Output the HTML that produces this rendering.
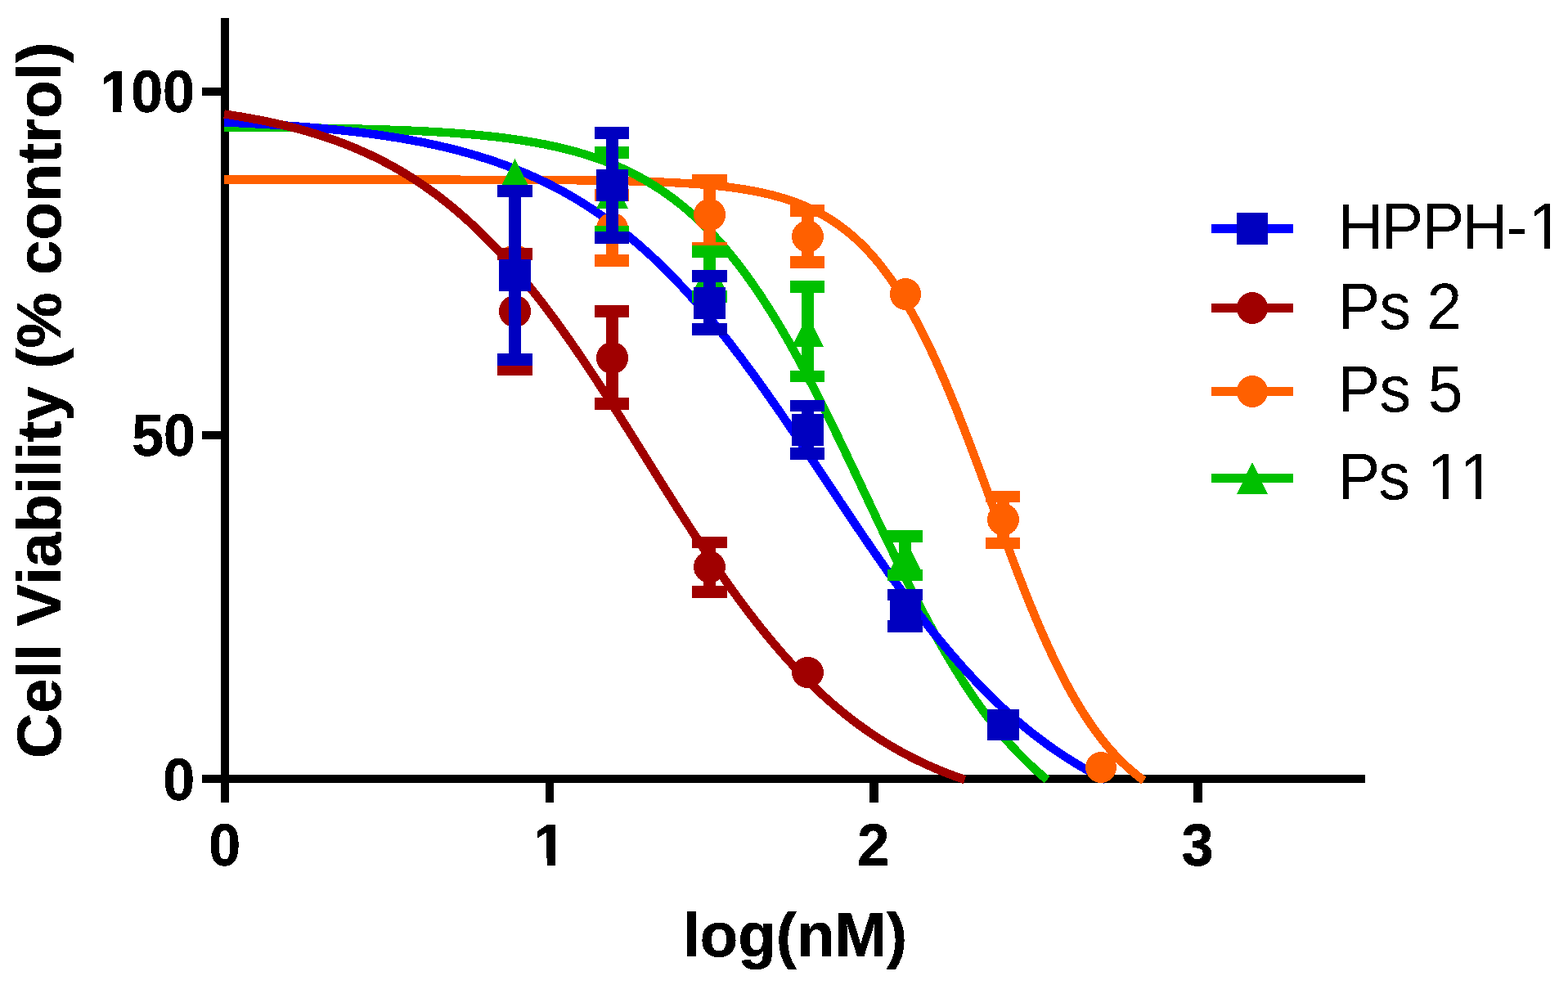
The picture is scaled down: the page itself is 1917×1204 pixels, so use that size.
<!DOCTYPE html>
<html lang="en"><head><meta charset="utf-8"><title>Cell Viability vs log(nM)</title>
<style>
html,body{margin:0;padding:0;background:#fff;width:1917px;height:1204px}
svg{display:block}
text{fill:#000;font-family:"Liberation Sans",sans-serif;white-space:pre;font-kerning:none;font-variant-ligatures:none}
.b{font-weight:700;stroke:#000;stroke-width:0.5px;stroke-linejoin:miter}
.r{font-weight:400}
</style></head>
<body>
<svg width="1917" height="1204" viewBox="0 0 1917 1204">
<defs>
<filter id="th" x="-5%" y="-5%" width="110%" height="110%" color-interpolation-filters="sRGB"><feComponentTransfer><feFuncA type="discrete" tableValues="0 1"/></feComponentTransfer></filter>
<clipPath id="c_y100"><path clip-rule="evenodd" d="M-50 -120H165.8V60H-50ZM2.41 -8.04H16.04V3.00H2.41ZM26.24 -8.04H38.98V3.00H26.24Z"/></clipPath>
<clipPath id="c_x1"><path clip-rule="evenodd" d="M-50 -120H88.9V60H-50ZM2.41 -8.04H16.04V3.00H2.41ZM26.24 -8.04H38.98V3.00H26.24Z"/></clipPath>
<clipPath id="c_l0"><path clip-rule="evenodd" d="M-50 -120H326.0V60H-50ZM237.02 -6.35H252.51V3.00H237.02ZM259.32 -6.35H274.21V3.00H259.32Z"/></clipPath>
<clipPath id="c_l3"><path clip-rule="evenodd" d="M-50 -120H242.0V60H-50ZM113.02 -6.35H128.51V3.00H113.02ZM135.32 -6.35H150.21V3.00H135.32ZM153.02 -6.35H168.51V3.00H153.02ZM175.32 -6.35H190.21V3.00H175.32Z"/></clipPath>
</defs>
<rect width="1917" height="1204" fill="#fff"/>
<g shape-rendering="crispEdges">
<g fill="#000">
<rect x="270" y="22" width="10" height="959"/>
<rect x="247" y="947" width="1422" height="10"/>
<rect x="247" y="107" width="23" height="10"/>
<rect x="247" y="527" width="23" height="10"/>
<rect x="667" y="957" width="10" height="24"/>
<rect x="1063" y="957" width="11" height="24"/>
<rect x="1459" y="957" width="11" height="24"/>
</g>
<g fill="none" stroke-linejoin="round">
<path stroke="#ff6000" stroke-width="10.4" d="M274.00 219.60L277.97 219.60L281.93 219.60L285.90 219.60L289.86 219.60L293.83 219.60L297.79 219.60L301.76 219.60L305.72 219.60L309.69 219.60L313.65 219.60L317.62 219.60L321.58 219.60L325.55 219.60L329.51 219.60L333.48 219.60L337.44 219.60L341.41 219.60L345.37 219.60L349.34 219.60L353.30 219.60L357.27 219.60L361.23 219.60L365.20 219.60L369.16 219.60L373.13 219.60L377.09 219.60L381.06 219.60L385.02 219.60L388.99 219.60L392.95 219.61L396.92 219.61L400.88 219.61L404.85 219.61L408.81 219.61L412.78 219.61L416.74 219.61L420.71 219.61L424.67 219.61L428.64 219.61L432.60 219.61L436.57 219.61L440.53 219.61L444.50 219.62L448.46 219.62L452.43 219.62L456.39 219.62L460.36 219.62L464.32 219.62L468.29 219.62L472.25 219.62L476.22 219.63L480.18 219.63L484.15 219.63L488.11 219.63L492.08 219.63L496.04 219.64L500.01 219.64L503.97 219.64L507.94 219.64L511.90 219.65L515.87 219.65L519.83 219.65L523.80 219.65L527.76 219.66L531.73 219.66L535.69 219.66L539.66 219.67L543.62 219.67L547.59 219.68L551.55 219.68L555.52 219.69L559.48 219.69L563.45 219.70L567.41 219.70L571.38 219.71L575.34 219.71L579.31 219.72L583.27 219.73L587.24 219.74L591.20 219.74L595.17 219.75L599.13 219.76L603.10 219.77L607.06 219.78L611.03 219.79L614.99 219.80L618.96 219.81L622.92 219.82L626.89 219.84L630.85 219.85L634.82 219.87L638.78 219.88L642.75 219.90L646.71 219.91L650.68 219.93L654.64 219.95L658.61 219.97L662.57 219.99L666.54 220.01L670.50 220.04L674.47 220.06L678.43 220.09L682.40 220.12L686.36 220.15L690.33 220.18L694.29 220.21L698.26 220.24L702.22 220.28L706.19 220.32L710.15 220.36L714.12 220.40L718.08 220.45L722.05 220.50L726.01 220.55L729.98 220.60L733.94 220.66L737.91 220.72L741.87 220.78L745.84 220.85L749.80 220.92L753.77 220.99L757.73 221.07L761.70 221.15L765.66 221.24L769.63 221.33L773.59 221.43L777.56 221.53L781.52 221.64L785.49 221.76L789.45 221.88L793.42 222.00L797.38 222.14L801.35 222.28L805.31 222.43L809.28 222.59L813.24 222.76L817.21 222.94L821.17 223.13L825.14 223.32L829.10 223.53L833.07 223.75L837.03 223.99L841.00 224.23L844.96 224.49L848.93 224.77L852.89 225.05L856.86 225.36L860.82 225.68L864.79 226.02L868.75 226.38L872.72 226.76L876.68 227.16L880.65 227.58L884.61 228.03L887.59 228.38"/><path stroke="#ff6000" stroke-width="10.4" d="M887.59 228.38L889.57 228.62L891.55 228.86L893.54 229.12L895.52 229.38L897.50 229.65L899.48 229.92L901.47 230.21L903.45 230.50L905.43 230.80L907.41 231.10L909.40 231.42L911.38 231.74L913.36 232.07L915.34 232.41L917.33 232.76L919.31 233.12L921.29 233.49L923.27 233.87L925.26 234.26L927.24 234.66L929.22 235.07L931.20 235.49L933.19 235.92L935.17 236.37L937.15 236.82L939.13 237.29L941.12 237.77L943.10 238.26L945.08 238.77L947.06 239.29L949.05 239.82L951.03 240.37L953.01 240.93L954.99 241.51L956.98 242.10L958.96 242.71L960.94 243.33L962.92 243.97L964.91 244.62L966.89 245.29L968.87 245.98L970.85 246.69L972.84 247.42L974.82 248.16L976.80 248.93L978.78 249.71L980.77 250.51L982.75 251.34L984.73 252.18L986.71 253.05L988.70 253.94L990.68 254.85L992.66 255.79L994.64 256.74L996.63 257.73L998.61 258.73L1000.59 259.76L1002.57 260.82L1004.56 261.91L1006.54 263.02L1008.52 264.15L1010.50 265.32L1012.49 266.51L1014.47 267.74L1016.45 268.99L1018.43 270.28L1020.42 271.59L1022.40 272.94L1024.38 274.32L1026.36 275.73L1028.35 277.17L1030.33 278.65L1032.31 280.17L1034.29 281.72L1036.28 283.30L1038.26 284.93L1040.24 286.59L1042.22 288.29L1044.21 290.03L1046.19 291.80L1048.17 293.62L1050.15 295.48L1052.14 297.38L1054.12 299.32L1056.10 301.31L1058.08 303.34L1060.07 305.41L1062.05 307.53L1064.03 309.69L1066.01 311.90L1068.00 314.16L1069.98 316.46L1071.96 318.82L1073.94 321.22L1075.93 323.67L1077.91 326.17L1079.89 328.72L1081.87 331.32L1083.86 333.98L1085.84 336.68L1087.82 339.44L1089.80 342.26L1091.79 345.12L1093.77 348.04L1095.75 351.02L1097.73 354.05L1099.72 357.13L1101.70 360.27L1103.68 363.47L1105.66 366.72L1107.65 370.03L1109.63 373.39L1111.61 376.82L1113.59 380.29L1115.58 383.83L1117.56 387.42L1119.54 391.07L1121.52 394.78L1123.51 398.55L1125.49 402.37L1127.47 406.24L1129.45 410.18L1131.44 414.17L1133.42 418.22L1135.40 422.32L1137.38 426.48L1139.37 430.69L1141.35 434.95L1143.33 439.27L1145.31 443.64L1147.30 448.07L1149.28 452.55L1151.26 457.07L1153.24 461.65L1155.23 466.27L1157.21 470.95L1159.19 475.67L1161.17 480.43L1163.16 485.24L1165.14 490.10L1167.12 494.99L1169.10 499.93L1171.09 504.91L1173.07 509.92L1175.05 514.97L1177.03 520.06L1179.02 525.18L1181.00 530.33L1182.98 535.51L1184.96 540.72L1186.95 545.96L1188.93 551.22L1190.91 556.51L1192.89 561.81L1194.88 567.14L1196.86 572.48L1198.84 577.84L1200.82 583.22L1202.81 588.60L1204.79 594.00L1206.77 599.40L1208.75 604.81L1210.74 610.22L1212.72 615.64L1214.70 621.05L1216.68 626.46L1218.67 631.87L1220.65 637.27L1222.63 642.67L1224.61 648.05L1226.60 653.42L1228.58 658.77L1230.56 664.11L1232.54 669.44L1234.53 674.74L1236.51 680.02L1238.49 685.27L1240.47 690.50L1242.46 695.71L1244.44 700.88L1246.42 706.02L1248.40 711.13L1250.39 716.21L1252.37 721.25L1254.35 726.25L1256.33 731.22L1258.32 736.15L1260.30 741.03L1262.28 745.87L1264.26 750.67L1266.25 755.42L1268.23 760.13L1270.21 764.79L1272.20 769.40L1274.18 773.97L1276.16 778.48L1278.14 782.94L1280.13 787.35L1282.11 791.71L1284.09 796.02L1286.07 800.27L1288.06 804.46L1290.04 808.61L1292.02 812.69L1294.00 816.72L1295.99 820.70L1297.97 824.62L1299.95 828.48L1301.93 832.29L1303.92 836.04L1305.90 839.73L1307.88 843.36L1309.86 846.94L1311.85 850.46L1313.83 853.93L1315.81 857.33L1317.79 860.68L1319.78 863.98L1321.76 867.21L1323.74 870.39L1325.72 873.52L1327.71 876.59L1329.69 879.60L1331.67 882.56L1333.65 885.47L1335.64 888.32L1337.62 891.12L1339.60 893.86L1341.58 896.55L1343.57 899.19L1345.55 901.78L1347.53 904.32L1349.51 906.81L1351.50 909.25L1353.48 911.63L1355.46 913.97L1357.44 916.26L1359.43 918.51L1361.41 920.71L1363.39 922.86L1365.37 924.96L1367.36 927.03L1369.34 929.04L1371.32 931.02L1373.30 932.95L1375.29 934.84L1377.27 936.68L1379.25 938.49L1381.23 940.26L1383.22 941.98L1385.20 943.67L1387.18 945.32L1389.16 946.94L1391.15 948.51L1393.13 950.05L1395.11 951.56L1397.09 953.03L1398.57 954.10"/>
<path stroke="#00c000" stroke-width="10.4" d="M274.00 155.59L277.97 155.61L281.93 155.63L285.90 155.66L289.86 155.68L293.83 155.70L297.79 155.73L301.76 155.75L305.72 155.78L309.69 155.81L313.65 155.84L317.62 155.86L321.58 155.90L325.55 155.93L329.51 155.96L333.48 156.00L337.44 156.03L341.41 156.07L345.37 156.11L349.34 156.15L353.30 156.19L357.27 156.23L361.23 156.28L365.20 156.32L369.16 156.37L373.13 156.42L377.09 156.47L381.06 156.53L385.02 156.59L388.99 156.64L392.95 156.70L396.92 156.77L400.88 156.83L404.85 156.90L408.81 156.97L412.78 157.04L416.74 157.12L420.71 157.20L424.67 157.28L428.64 157.37L432.60 157.45L436.57 157.55L440.53 157.64L444.50 157.74L448.46 157.84L452.43 157.95L456.39 158.06L460.36 158.17L464.32 158.29L468.29 158.41L472.25 158.54L476.22 158.68L480.18 158.81L484.15 158.96L488.11 159.11L492.08 159.26L496.04 159.42L500.01 159.59L503.97 159.76L507.94 159.94L511.90 160.12L515.87 160.32L519.83 160.52L523.80 160.72L527.76 160.94L531.73 161.16L535.69 161.40L539.66 161.64L543.62 161.89L547.59 162.15L551.55 162.42L555.52 162.70L559.48 162.99L563.45 163.29L567.41 163.60L571.38 163.92L575.34 164.26L579.31 164.61L583.27 164.97L587.24 165.35L591.20 165.74L595.17 166.14L599.13 166.56L603.10 166.99L607.06 167.44L611.03 167.91"/><path stroke="#00c000" stroke-width="10.4" d="M611.03 167.91L613.01 168.15L614.99 168.40L616.97 168.65L618.96 168.90L620.94 169.16L622.92 169.42L624.90 169.69L626.89 169.96L628.87 170.24L630.85 170.53L632.83 170.81L634.82 171.11L636.80 171.41L638.78 171.71L640.76 172.02L642.75 172.34L644.73 172.66L646.71 172.98L648.69 173.32L650.68 173.66L652.66 174.00L654.64 174.35L656.62 174.71L658.61 175.08L660.59 175.45L662.57 175.83L664.55 176.21L666.54 176.60L668.52 177.00L670.50 177.41L672.49 177.82L674.47 178.24L676.45 178.67L678.43 179.11L680.42 179.55L682.40 180.00L684.38 180.46L686.36 180.93L688.35 181.41L690.33 181.89L692.31 182.39L694.29 182.89L696.28 183.40L698.26 183.92L700.24 184.45L702.22 184.99L704.21 185.54L706.19 186.10L708.17 186.66L710.15 187.24L712.14 187.83L714.12 188.43L716.10 189.04L718.08 189.66L720.07 190.29L722.05 190.93L724.03 191.58L726.01 192.25L728.00 192.92L729.98 193.61L731.96 194.31L733.94 195.02L735.93 195.75L737.91 196.48L739.89 197.23L741.87 198.00L743.86 198.77L745.84 199.56L747.82 200.36L749.80 201.18L751.79 202.00L753.77 202.85L755.75 203.71L757.73 204.58L759.72 205.46L761.70 206.37L763.68 207.28L765.66 208.22L767.65 209.16L769.63 210.13L771.61 211.11L773.59 212.10L775.58 213.11L777.56 214.14L779.54 215.19L781.52 216.25L783.51 217.33L785.49 218.43L787.47 219.55L789.45 220.68L791.44 221.83L793.42 223.00L795.40 224.19L797.38 225.40L799.37 226.63L801.35 227.88L803.33 229.15L805.31 230.43L807.30 231.74L809.28 233.07L811.26 234.42L813.24 235.79L815.23 237.18L817.21 238.59L819.19 240.03L821.17 241.48L823.16 242.96L825.14 244.46L827.12 245.99L829.10 247.54L831.09 249.11L833.07 250.70L835.05 252.32L837.03 253.96L839.02 255.62L841.00 257.31L842.98 259.03L844.96 260.77L846.95 262.53L848.93 264.32L850.91 266.14L852.89 267.98L854.88 269.85L856.86 271.74L858.84 273.67L860.82 275.61L862.81 277.59L864.79 279.59L866.77 281.62L868.75 283.67L870.74 285.76L872.72 287.87L874.70 290.01L876.68 292.18L878.67 294.37L880.65 296.60L882.63 298.85L884.61 301.14L886.60 303.45L888.58 305.79L890.56 308.16L892.54 310.56L894.53 312.99L896.51 315.45L898.49 317.94L900.47 320.46L902.46 323.01L904.44 325.59L906.42 328.20L908.40 330.84L910.39 333.51L912.37 336.21L914.35 338.94L916.33 341.70L918.32 344.49L920.30 347.31L922.28 350.16L924.26 353.05L926.25 355.96L928.23 358.90L930.21 361.88L932.19 364.88L934.18 367.91L936.16 370.98L938.14 374.07L940.12 377.20L942.11 380.35L944.09 383.53L946.07 386.74L948.05 389.99L950.04 393.26L952.02 396.56L954.00 399.88L955.98 403.24L957.97 406.62L959.95 410.04L961.93 413.48L963.91 416.94L965.90 420.44L967.88 423.96L969.86 427.51L971.84 431.08L973.83 434.68L975.81 438.31L977.79 441.96L979.77 445.63L981.76 449.33L983.74 453.06L985.72 456.80L987.70 460.57L989.69 464.36L991.67 468.18L993.65 472.01L995.63 475.87L997.62 479.75L999.60 483.64L1001.58 487.56L1003.56 491.50L1005.55 495.45L1007.53 499.42L1009.51 503.41L1011.49 507.41L1013.48 511.44L1015.46 515.47L1017.44 519.52L1019.42 523.59L1021.41 527.67L1023.39 531.76L1025.37 535.86L1027.35 539.98L1029.34 544.10L1031.32 548.24L1033.30 552.39L1035.28 556.54L1037.27 560.70L1039.25 564.87L1041.23 569.05L1043.21 573.23L1045.20 577.41L1047.18 581.61L1049.16 585.80L1051.14 590.00L1053.13 594.20L1055.11 598.40L1057.09 602.60L1059.07 606.80L1061.06 611.00L1063.04 615.20L1065.02 619.40L1067.00 623.59L1068.99 627.78L1070.97 631.97L1072.95 636.15L1074.94 640.32L1076.92 644.49L1078.90 648.65L1080.88 652.80L1082.87 656.94L1084.85 661.08L1086.83 665.20L1088.81 669.31L1090.80 673.41L1092.78 677.50L1094.76 681.57L1096.74 685.64L1098.73 689.68L1100.71 693.72L1102.69 697.73L1104.67 701.73L1106.66 705.72L1108.64 709.68L1110.62 713.63L1112.60 717.56L1114.59 721.48L1116.57 725.37L1118.55 729.24L1120.53 733.09L1122.52 736.92L1124.50 740.73L1126.48 744.51L1128.46 748.28L1130.45 752.02L1132.43 755.73L1134.41 759.43L1136.39 763.10L1138.38 766.74L1140.36 770.36L1142.34 773.95L1144.32 777.52L1146.31 781.06L1148.29 784.57L1150.27 788.06L1152.25 791.52L1154.24 794.95L1156.22 798.36L1158.20 801.74L1160.18 805.08L1162.17 808.40L1164.15 811.70L1166.13 814.96L1168.11 818.19L1170.10 821.40L1172.08 824.57L1174.06 827.72L1176.04 830.83L1178.03 833.92L1180.01 836.97L1181.99 840.00L1183.97 843.00L1185.96 845.96L1187.94 848.90L1189.92 851.80L1191.90 854.68L1193.89 857.52L1195.87 860.33L1197.85 863.12L1199.83 865.87L1201.82 868.59L1203.80 871.28L1205.78 873.95L1207.76 876.58L1209.75 879.18L1211.73 881.75L1213.71 884.29L1215.69 886.80L1217.68 889.28L1219.66 891.74L1221.64 894.16L1223.62 896.55L1225.61 898.91L1227.59 901.25L1229.57 903.55L1231.55 905.83L1233.54 908.07L1235.52 910.29L1237.50 912.48L1239.48 914.64L1241.47 916.77L1243.45 918.88L1245.43 920.95L1247.41 923.00L1249.40 925.02L1251.38 927.02L1253.36 928.98L1255.34 930.93L1257.33 932.84L1259.31 934.73L1261.29 936.59L1263.27 938.42L1265.26 940.23L1267.24 942.01L1269.22 943.77L1271.20 945.51L1273.19 947.21L1275.17 948.90L1277.15 950.56L1279.13 952.19L1280.12 953.00"/>
<path stroke="#0000ff" stroke-width="10.4" d="M274.00 149.53L277.97 149.70L281.93 149.87L285.90 150.04L289.86 150.22L293.83 150.40L297.79 150.59L301.76 150.78L305.72 150.98L309.69 151.19L313.65 151.40L317.62 151.61L321.58 151.83L325.55 152.06L329.51 152.29L333.48 152.53L337.44 152.77L341.41 153.02L345.37 153.28L349.34 153.54L353.30 153.82L357.27 154.09L361.23 154.38L365.20 154.67L369.16 154.98L373.13 155.29L377.09 155.60L381.06 155.93L385.02 156.26L388.99 156.61L392.95 156.96L396.92 157.32L400.88 157.69L404.85 158.07L408.81 158.46L412.78 158.86L416.74 159.28L420.71 159.70L424.67 160.13L428.64 160.58L432.60 161.03L436.57 161.50L437.06 161.56"/><path stroke="#0000ff" stroke-width="10.4" d="M437.06 161.56L439.04 161.80L441.03 162.04L443.01 162.29L444.99 162.54L446.97 162.79L448.96 163.04L450.94 163.30L452.92 163.56L454.90 163.83L456.89 164.10L458.87 164.37L460.85 164.65L462.83 164.92L464.82 165.21L466.80 165.49L468.78 165.78L470.76 166.08L472.75 166.37L474.73 166.68L476.71 166.98L478.69 167.29L480.68 167.60L482.66 167.92L484.64 168.24L486.62 168.57L488.61 168.89L490.59 169.23L492.57 169.57L494.55 169.91L496.54 170.25L498.52 170.60L500.50 170.96L502.48 171.32L504.47 171.68L506.45 172.05L508.43 172.42L510.41 172.80L512.40 173.19L514.38 173.57L516.36 173.96L518.34 174.36L520.33 174.76L522.31 175.17L524.29 175.58L526.27 176.00L528.26 176.42L530.24 176.85L532.22 177.29L534.20 177.72L536.19 178.17L538.17 178.62L540.15 179.07L542.13 179.53L544.12 180.00L546.10 180.47L548.08 180.95L550.06 181.44L552.05 181.93L554.03 182.42L556.01 182.92L557.99 183.43L559.98 183.95L561.96 184.47L563.94 185.00L565.92 185.53L567.91 186.07L569.89 186.62L571.87 187.17L573.86 187.73L575.84 188.30L577.82 188.87L579.80 189.45L581.79 190.04L583.77 190.63L585.75 191.24L587.73 191.84L589.72 192.46L591.70 193.09L593.68 193.72L595.66 194.36L597.65 195.00L599.63 195.66L601.61 196.32L603.59 196.99L605.58 197.67L607.56 198.35L609.54 199.05L611.52 199.75L613.51 200.46L615.49 201.18L617.47 201.90L619.45 202.64L621.44 203.38L623.42 204.14L625.40 204.90L627.38 205.67L629.37 206.45L631.35 207.24L633.33 208.03L635.31 208.84L637.30 209.66L639.28 210.48L641.26 211.32L643.24 212.16L645.23 213.01L647.21 213.88L649.19 214.75L651.17 215.63L653.16 216.53L655.14 217.43L657.12 218.34L659.10 219.27L661.09 220.20L663.07 221.14L665.05 222.10L667.03 223.06L669.02 224.04L671.00 225.03L672.98 226.03L674.96 227.03L676.95 228.05L678.93 229.08L680.91 230.13L682.89 231.18L684.88 232.24L686.86 233.32L688.84 234.41L690.82 235.51L692.81 236.62L694.79 237.74L696.77 238.87L698.75 240.02L700.74 241.18L702.72 242.35L704.70 243.53L706.68 244.73L708.67 245.94L710.65 247.16L712.63 248.39L714.61 249.64L716.60 250.89L718.58 252.16L720.56 253.45L722.54 254.75L724.53 256.06L726.51 257.38L728.49 258.72L730.47 260.07L732.46 261.43L734.44 262.81L736.42 264.20L738.40 265.60L740.39 267.02L742.37 268.45L744.35 269.90L746.33 271.35L748.32 272.83L750.30 274.32L752.28 275.82L754.26 277.33L756.25 278.86L758.23 280.41L760.21 281.97L762.19 283.54L764.18 285.13L766.16 286.73L768.14 288.34L770.12 289.98L772.11 291.62L774.09 293.28L776.07 294.96L778.05 296.65L780.04 298.35L782.02 300.07L784.00 301.81L785.98 303.56L787.97 305.33L789.95 307.11L791.93 308.90L793.91 310.71L795.90 312.54L797.88 314.38L799.86 316.24L801.84 318.11L803.83 319.99L805.81 321.90L807.79 323.81L809.77 325.75L811.76 327.70L813.74 329.66L815.72 331.64L817.70 333.63L819.69 335.64L821.67 337.67L823.65 339.71L825.63 341.76L827.62 343.84L829.60 345.92L831.58 348.02L833.56 350.14L835.55 352.27L837.53 354.42L839.51 356.58L841.49 358.76L843.48 360.95L845.46 363.16L847.44 365.38L849.42 367.62L851.41 369.87L853.39 372.14L855.37 374.42L857.35 376.72L859.34 379.03L861.32 381.36L863.30 383.70L865.28 386.06L867.27 388.43L869.25 390.81L871.23 393.21L873.21 395.62L875.20 398.05L877.18 400.49L879.16 402.94L881.14 405.41L883.13 407.89L885.11 410.39L887.09 412.90L889.07 415.42L891.06 417.96L893.04 420.50L895.02 423.06L897.00 425.64L898.99 428.23L900.97 430.82L902.95 433.44L904.93 436.06L906.92 438.70L908.90 441.34L910.88 444.00L912.86 446.67L914.85 449.36L916.83 452.05L918.81 454.76L920.79 457.47L922.78 460.20L924.76 462.94L926.74 465.68L928.72 468.44L930.71 471.21L932.69 473.99L934.67 476.77L936.65 479.57L938.64 482.38L940.62 485.19L942.60 488.01L944.58 490.85L946.57 493.69L948.55 496.54L950.53 499.39L952.51 502.26L954.50 505.13L956.48 508.01L958.46 510.89L960.44 513.78L962.43 516.68L964.41 519.59L966.39 522.50L968.38 525.42L970.36 528.34L972.34 531.27L974.32 534.20L976.31 537.14L978.29 540.08L980.27 543.03L982.25 545.98L984.24 548.94L986.22 551.90L988.20 554.86L990.18 557.82L992.17 560.79L994.15 563.76L996.13 566.73L998.11 569.71L1000.10 572.68L1002.08 575.66L1004.06 578.64L1006.04 581.62L1008.03 584.60L1010.01 587.58L1011.99 590.56L1013.97 593.54L1015.96 596.52L1017.94 599.50L1019.92 602.48L1021.90 605.45L1023.89 608.43L1025.87 611.40L1027.85 614.38L1029.83 617.35L1031.82 620.31L1033.80 623.28L1035.78 626.24L1037.76 629.20L1039.75 632.15L1041.73 635.10L1043.71 638.05L1045.69 640.99L1047.68 643.93L1049.66 646.86L1051.64 649.79L1053.62 652.71L1055.61 655.63L1057.59 658.54L1059.57 661.44L1061.55 664.34L1063.54 667.23L1065.52 670.12L1067.50 672.99L1069.48 675.87L1071.47 678.73L1073.45 681.58L1075.43 684.43L1077.41 687.27L1079.40 690.10L1081.38 692.92L1083.36 695.74L1085.34 698.54L1087.33 701.34L1089.31 704.12L1091.29 706.90L1093.27 709.67L1095.26 712.42L1097.24 715.17L1099.22 717.90L1101.20 720.63L1103.19 723.34L1105.17 726.05L1107.15 728.74L1109.13 731.42L1111.12 734.09L1113.10 736.75L1115.08 739.40L1117.06 742.03L1119.05 744.65L1121.03 747.26L1123.01 749.86L1124.99 752.45L1126.98 755.02L1128.96 757.58L1130.94 760.12L1132.92 762.66L1134.91 765.18L1136.89 767.68L1138.87 770.18L1140.85 772.66L1142.84 775.13L1144.82 777.58L1146.80 780.02L1148.78 782.44L1150.77 784.85L1152.75 787.25L1154.73 789.63L1156.71 792.00L1158.70 794.35L1160.68 796.69L1162.66 799.02L1164.64 801.33L1166.63 803.62L1168.61 805.90L1170.59 808.17L1172.57 810.42L1174.56 812.66L1176.54 814.88L1178.52 817.08L1180.50 819.27L1182.49 821.45L1184.47 823.61L1186.45 825.75L1188.43 827.89L1190.42 830.00L1192.40 832.10L1194.38 834.18L1196.36 836.25L1198.35 838.31L1200.33 840.35L1202.31 842.37L1204.29 844.38L1206.28 846.37L1208.26 848.35L1210.24 850.31L1212.22 852.25L1214.21 854.18L1216.19 856.10L1218.17 858.00L1220.15 859.89L1222.14 861.76L1224.12 863.61L1226.10 865.45L1228.08 867.27L1230.07 869.08L1232.05 870.88L1234.03 872.65L1236.01 874.42L1238.00 876.17L1239.98 877.90L1241.96 879.62L1243.94 881.32L1245.93 883.01L1247.91 884.68L1249.89 886.34L1251.87 887.99L1253.86 889.62L1255.84 891.23L1257.82 892.83L1259.80 894.42L1261.79 895.99L1263.77 897.55L1265.75 899.09L1267.73 900.62L1269.72 902.13L1271.70 903.63L1273.68 905.11L1275.66 906.59L1277.65 908.04L1279.63 909.49L1281.61 910.92L1283.59 912.33L1285.58 913.73L1287.56 915.12L1289.54 916.50L1291.52 917.86L1293.51 919.21L1295.49 920.54L1297.47 921.87L1299.45 923.17L1301.44 924.47L1303.42 925.75L1305.40 927.02L1307.38 928.28L1309.37 929.52L1311.35 930.75L1313.33 931.97L1315.31 933.18L1317.30 934.37L1319.28 935.55L1321.26 936.72L1323.24 937.88L1325.23 939.02L1327.21 940.16L1329.19 941.28L1331.17 942.39L1333.16 943.49L1335.14 944.57L1337.12 945.65L1339.10 946.71L1341.09 947.76L1343.07 948.80L1345.05 949.83L1347.03 950.85L1349.02 951.86L1351.00 952.85L1351.70 953.20"/>
<path stroke="#a00000" stroke-width="10.4" d="M274.00 139.41L275.98 139.70L277.97 139.99L279.95 140.29L281.93 140.59L283.91 140.90L285.90 141.21L287.88 141.52L289.86 141.84L291.84 142.16L293.83 142.49L295.81 142.82L297.79 143.16L299.77 143.50L301.76 143.85L303.74 144.20L305.72 144.55L307.70 144.91L309.69 145.28L311.67 145.65L313.65 146.02L315.63 146.40L317.62 146.79L319.60 147.18L321.58 147.57L323.56 147.97L325.55 148.38L327.53 148.79L329.51 149.21L331.49 149.63L333.48 150.06L335.46 150.50L337.44 150.94L339.42 151.38L341.41 151.84L343.39 152.29L345.37 152.76L347.35 153.23L349.34 153.71L351.32 154.19L353.30 154.68L355.28 155.18L357.27 155.68L359.25 156.19L361.23 156.70L363.21 157.23L365.20 157.76L367.18 158.29L369.16 158.84L371.14 159.39L373.13 159.95L375.11 160.51L377.09 161.09L379.07 161.67L381.06 162.26L383.04 162.85L385.02 163.46L387.00 164.07L388.99 164.69L390.97 165.31L392.95 165.95L394.93 166.59L396.92 167.25L398.90 167.91L400.88 168.58L402.86 169.25L404.85 169.94L406.83 170.63L408.81 171.34L410.79 172.05L412.78 172.77L414.76 173.50L416.74 174.24L418.72 174.99L420.71 175.75L422.69 176.52L424.67 177.30L426.65 178.09L428.64 178.89L430.62 179.70L432.60 180.51L434.58 181.34L436.57 182.18L438.55 183.03L440.53 183.89L442.51 184.76L444.50 185.64L446.48 186.53L448.46 187.43L450.44 188.35L452.43 189.27L454.41 190.21L456.39 191.15L458.37 192.11L460.36 193.08L462.34 194.07L464.32 195.06L466.30 196.06L468.29 197.08L470.27 198.11L472.25 199.15L474.23 200.21L476.22 201.27L478.20 202.35L480.18 203.44L482.16 204.55L484.15 205.67L486.13 206.80L488.11 207.94L490.09 209.10L492.08 210.27L494.06 211.45L496.04 212.65L498.02 213.86L500.01 215.08L501.99 216.32L503.97 217.57L505.95 218.84L507.94 220.12L509.92 221.41L511.90 222.72L513.88 224.04L515.87 225.38L517.85 226.73L519.83 228.10L521.81 229.48L523.80 230.88L525.78 232.29L527.76 233.72L529.74 235.16L531.73 236.62L533.71 238.09L535.69 239.58L537.67 241.09L539.66 242.61L541.64 244.14L543.62 245.70L545.60 247.26L547.59 248.85L549.57 250.45L551.55 252.06L553.53 253.70L555.52 255.35L557.50 257.01L559.48 258.69L561.46 260.39L563.45 262.11L565.43 263.84L567.41 265.59L569.39 267.35L571.38 269.14L573.36 270.94L575.34 272.75L577.32 274.59L579.31 276.44L581.29 278.30L583.27 280.19L585.25 282.09L587.24 284.01L589.22 285.95L591.20 287.90L593.18 289.88L595.17 291.86L597.15 293.87L599.13 295.90L601.11 297.94L603.10 300.00L605.08 302.07L607.06 304.17L609.04 306.28L611.03 308.41L613.01 310.56L614.99 312.72L616.97 314.90L618.96 317.10L620.94 319.32L622.92 321.56L624.90 323.81L626.89 326.08L628.87 328.36L630.85 330.67L632.83 332.99L634.82 335.33L636.80 337.68L638.78 340.06L640.76 342.45L642.75 344.85L644.73 347.28L646.71 349.72L648.69 352.18L650.68 354.65L652.66 357.14L654.64 359.65L656.62 362.18L658.61 364.72L660.59 367.27L662.57 369.85L664.55 372.44L666.54 375.04L668.52 377.66L670.50 380.30L672.49 382.95L674.47 385.62L676.45 388.30L678.43 391.00L680.42 393.71L682.40 396.44L684.38 399.18L686.36 401.93L688.35 404.70L690.33 407.49L692.31 410.29L694.29 413.10L696.28 415.93L698.26 418.76L700.24 421.62L702.22 424.48L704.21 427.36L706.19 430.25L708.17 433.15L710.15 436.07L712.14 439.00L714.12 441.93L716.10 444.88L718.08 447.84L720.07 450.82L722.05 453.80L724.03 456.79L726.01 459.79L728.00 462.81L729.98 465.83L731.96 468.86L733.94 471.90L735.93 474.95L737.91 478.01L739.89 481.08L741.87 484.15L743.86 487.23L745.84 490.32L747.82 493.42L749.80 496.52L751.79 499.63L753.77 502.75L755.75 505.87L757.73 509.00L759.72 512.13L761.70 515.27L763.68 518.41L765.66 521.55L767.65 524.71L769.63 527.86L771.61 531.02L773.59 534.18L775.58 537.34L777.56 540.51L779.54 543.68L781.52 546.85L783.51 550.02L785.49 553.19L787.47 556.36L789.45 559.54L791.44 562.71L793.42 565.88L795.40 569.06L797.38 572.23L799.37 575.40L801.35 578.57L803.33 581.74L805.31 584.90L807.30 588.06L809.28 591.22L811.26 594.38L813.24 597.54L815.23 600.69L817.21 603.83L819.19 606.97L821.17 610.11L823.16 613.24L825.14 616.37L827.12 619.49L829.10 622.60L831.09 625.71L833.07 628.81L835.05 631.91L837.03 635.00L839.02 638.08L841.00 641.15L842.98 644.21L844.96 647.27L846.95 650.32L848.93 653.36L850.91 656.39L852.89 659.41L854.88 662.42L856.86 665.42L858.84 668.41L860.82 671.39L862.81 674.36L864.79 677.32L866.77 680.27L868.75 683.20L870.74 686.13L872.72 689.04L874.70 691.94L876.68 694.83L878.67 697.71L880.65 700.57L882.63 703.42L884.61 706.26L886.60 709.08L888.58 711.89L890.56 714.68L892.54 717.47L894.53 720.23L896.51 722.99L898.49 725.73L900.47 728.45L902.46 731.16L904.44 733.86L906.42 736.54L908.40 739.20L910.39 741.85L912.37 744.48L914.35 747.10L916.33 749.70L918.32 752.29L920.30 754.86L922.28 757.41L924.26 759.95L926.25 762.47L928.23 764.97L930.21 767.46L932.19 769.93L934.18 772.39L936.16 774.83L938.14 777.25L940.12 779.65L942.11 782.04L944.09 784.41L946.07 786.76L948.05 789.10L950.04 791.42L952.02 793.72L954.00 796.00L955.98 798.27L957.97 800.52L959.95 802.75L961.93 804.96L963.91 807.16L965.90 809.34L967.88 811.50L969.86 813.64L971.84 815.77L973.83 817.88L975.81 819.97L977.79 822.04L979.77 824.10L981.76 826.14L983.74 828.16L985.72 830.16L987.70 832.15L989.69 834.12L991.67 836.07L993.65 838.00L995.63 839.92L997.62 841.82L999.60 843.70L1001.58 845.56L1003.56 847.41L1005.55 849.24L1007.53 851.05L1009.51 852.85L1011.49 854.63L1013.48 856.39L1015.46 858.14L1017.44 859.87L1019.42 861.58L1021.41 863.27L1023.39 864.95L1025.37 866.62L1027.35 868.26L1029.34 869.89L1031.32 871.50L1033.30 873.10L1035.28 874.68L1037.27 876.25L1039.25 877.80L1041.23 879.33L1043.21 880.85L1045.20 882.35L1047.18 883.83L1049.16 885.31L1051.14 886.76L1053.13 888.20L1055.11 889.62L1057.09 891.03L1059.07 892.43L1061.06 893.81L1063.04 895.17L1065.02 896.52L1067.00 897.86L1068.99 899.18L1070.97 900.48L1072.95 901.77L1074.94 903.05L1076.92 904.32L1078.90 905.56L1080.88 906.80L1082.87 908.02L1084.85 909.23L1086.83 910.42L1088.81 911.61L1090.80 912.77L1092.78 913.93L1094.76 915.07L1096.74 916.20L1098.73 917.31L1100.71 918.41L1102.69 919.50L1104.67 920.58L1106.66 921.64L1108.64 922.69L1110.62 923.73L1112.60 924.76L1114.59 925.78L1116.57 926.78L1118.55 927.77L1120.53 928.75L1122.52 929.72L1124.50 930.68L1126.48 931.62L1128.46 932.55L1130.45 933.48L1132.43 934.39L1134.41 935.29L1136.39 936.18L1138.38 937.06L1140.36 937.93L1142.34 938.78L1144.32 939.63L1146.31 940.47L1148.29 941.29L1150.27 942.11L1152.25 942.92L1154.24 943.71L1156.22 944.50L1158.20 945.27L1160.18 946.04L1162.17 946.80L1164.15 947.55L1166.13 948.29L1168.11 949.02L1170.10 949.74L1172.08 950.45L1174.06 951.15L1176.04 951.84L1178.03 952.53L1179.41 953.00"/>
</g>
<g fill="#ff6000">
<ellipse cx="629.5" cy="318.5" rx="19.5" ry="19.5"/>
<rect x="741" y="231" width="15" height="95"/><rect x="727" y="231" width="42" height="15"/><rect x="727" y="311" width="42" height="15"/>
<ellipse cx="748.5" cy="279.5" rx="19.5" ry="19.5"/>
<rect x="860" y="213" width="15" height="98"/><rect x="846" y="213" width="43" height="15"/><rect x="846" y="296" width="43" height="15"/>
<ellipse cx="867.5" cy="262.5" rx="19.5" ry="19.5"/>
<rect x="980" y="250" width="15" height="78"/><rect x="966" y="250" width="42" height="15"/><rect x="966" y="313" width="42" height="15"/>
<ellipse cx="987.5" cy="289" rx="19.5" ry="19.5"/>
<ellipse cx="1107" cy="359.5" rx="19" ry="19.5"/>
<rect x="1219" y="600" width="15" height="71"/><rect x="1205" y="600" width="42" height="14"/><rect x="1205" y="657" width="42" height="14"/>
<ellipse cx="1226.5" cy="635" rx="19.5" ry="19.5"/>
<ellipse cx="1346" cy="938" rx="19" ry="19"/>
</g>
<g fill="#a00000">
<rect x="622" y="303" width="15" height="156"/><rect x="608" y="303" width="43" height="15"/><rect x="608" y="444" width="43" height="15"/>
<ellipse cx="629.5" cy="380.5" rx="19.5" ry="19.5"/>
<rect x="741" y="373" width="15" height="128"/><rect x="727" y="373" width="42" height="15"/><rect x="727" y="486" width="42" height="15"/>
<ellipse cx="748.5" cy="437.5" rx="19.5" ry="19.5"/>
<rect x="860" y="656" width="15" height="75"/><rect x="846" y="656" width="43" height="14"/><rect x="846" y="716" width="43" height="15"/>
<ellipse cx="867.5" cy="693" rx="19.5" ry="19.5"/>
<ellipse cx="987.5" cy="822" rx="19.5" ry="19"/>
</g>
<g fill="#00c000">
<path d="M629.5 194 L649 233 L610 233 Z"/>
<rect x="741" y="179" width="15" height="112"/><rect x="727" y="179" width="42" height="15"/><rect x="727" y="276" width="42" height="15"/>
<path d="M748.5 216 L768 255 L729 255 Z"/>
<rect x="860" y="300" width="15" height="70"/><rect x="846" y="300" width="43" height="15"/><rect x="846" y="355" width="43" height="15"/>
<path d="M867.5 315.5 L887 354.5 L848 354.5 Z"/>
<rect x="980" y="343" width="15" height="124"/><rect x="966" y="343" width="42" height="15"/><rect x="966" y="453" width="42" height="14"/>
<path d="M987.5 385 L1007 424 L968 424 Z"/>
<rect x="1099" y="648" width="15" height="62"/><rect x="1085" y="648" width="43" height="15"/><rect x="1085" y="696" width="43" height="14"/>
<path d="M1107 658.5 L1126 697.5 L1088 697.5 Z"/>
</g>
<g fill="#0000c0">
<rect x="622" y="226" width="15" height="221"/><rect x="608" y="226" width="43" height="15"/><rect x="608" y="432" width="43" height="15"/>
<rect x="610" y="317" width="39" height="39"/>
<rect x="741" y="155" width="15" height="143"/><rect x="727" y="155" width="42" height="15"/><rect x="727" y="283" width="42" height="15"/>
<rect x="729" y="207" width="39" height="39"/>
<rect x="860" y="330" width="15" height="80"/><rect x="846" y="330" width="43" height="15"/><rect x="846" y="395" width="43" height="15"/>
<rect x="848" y="351" width="39" height="39"/>
<rect x="980" y="489" width="15" height="73"/><rect x="966" y="489" width="42" height="14"/><rect x="966" y="547" width="42" height="15"/>
<rect x="968" y="506" width="39" height="39"/>
<rect x="1099" y="720" width="15" height="53"/><rect x="1085" y="720" width="43" height="14"/><rect x="1085" y="758" width="43" height="15"/>
<rect x="1088" y="727" width="38" height="39"/>
<rect x="1207" y="867" width="39" height="38"/>
</g>
<g fill="#0000ff"><rect x="1481" y="274" width="100" height="11"/></g>
<g fill="#0000c0"><rect x="1512" y="260" width="38" height="39"/></g>
<g fill="#a00000"><rect x="1481" y="371" width="100" height="11"/></g>
<g fill="#a00000"><ellipse cx="1531" cy="376.5" rx="19" ry="19.5"/></g>
<g fill="#ff6000"><rect x="1481" y="473" width="100" height="11"/></g>
<g fill="#ff6000"><ellipse cx="1531" cy="478.5" rx="19" ry="19.5"/></g>
<g fill="#00c000"><rect x="1481" y="579" width="100" height="11"/></g>
<g fill="#00c000"><path d="M1531 565 L1550 604 L1512 604 Z"/></g>
</g>
<g filter="url(#th)">
<text id="y100" class="b" font-size="70" x="0 37.93 76.86" clip-path="url(#c_y100)" transform="translate(122.21 137.3) scale(1 1.043)">100</text>
<text id="y50" class="b" font-size="70" transform="translate(161.14 557.3) scale(1 1.043)">50</text>
<text id="y0" class="b" font-size="70" transform="translate(199.17 978) scale(1 1.043)">0</text>
<text id="x0" class="b" font-size="70" transform="translate(255.13 1057.8) scale(1 1.043)">0</text>
<text id="x1" class="b" font-size="70" clip-path="url(#c_x1)" transform="translate(652.53 1057.8) scale(1 1.043)">1</text>
<text id="x2" class="b" font-size="70" transform="translate(1048.13 1057.8) scale(1 1.043)">2</text>
<text id="x3" class="b" font-size="70" transform="translate(1444.53 1057.8) scale(1 1.043)">3</text>
<text id="xt" class="b" font-size="76" transform="translate(834.69 1169)">log(nM)</text>
<text id="yt" class="b" font-size="76.5" transform="translate(74 927.138) rotate(-90)">Cell Viability (% control)</text>
<text id="l0" class="r" font-size="77" x="0 53 103 152 206 233.15" clip-path="url(#c_l0)" transform="translate(1635.68 304) scale(1 1.04)">HPPH-1</text>
<text id="l1" class="r" font-size="77" x="0 50.89 89.32 108.91" transform="translate(1635.68 402) scale(1 1.04)">Ps 2</text>
<text id="l2" class="r" font-size="77" x="0 50.89 89.32 109.98" transform="translate(1635.68 503) scale(1 1.04)">Ps 5</text>
<text id="l3" class="r" font-size="77" x="0 49.89 88.32 109.15 149.15" clip-path="url(#c_l3)" transform="translate(1635.68 610) scale(1 1.04)">Ps 11</text>
</g>
</svg>
</body></html>
